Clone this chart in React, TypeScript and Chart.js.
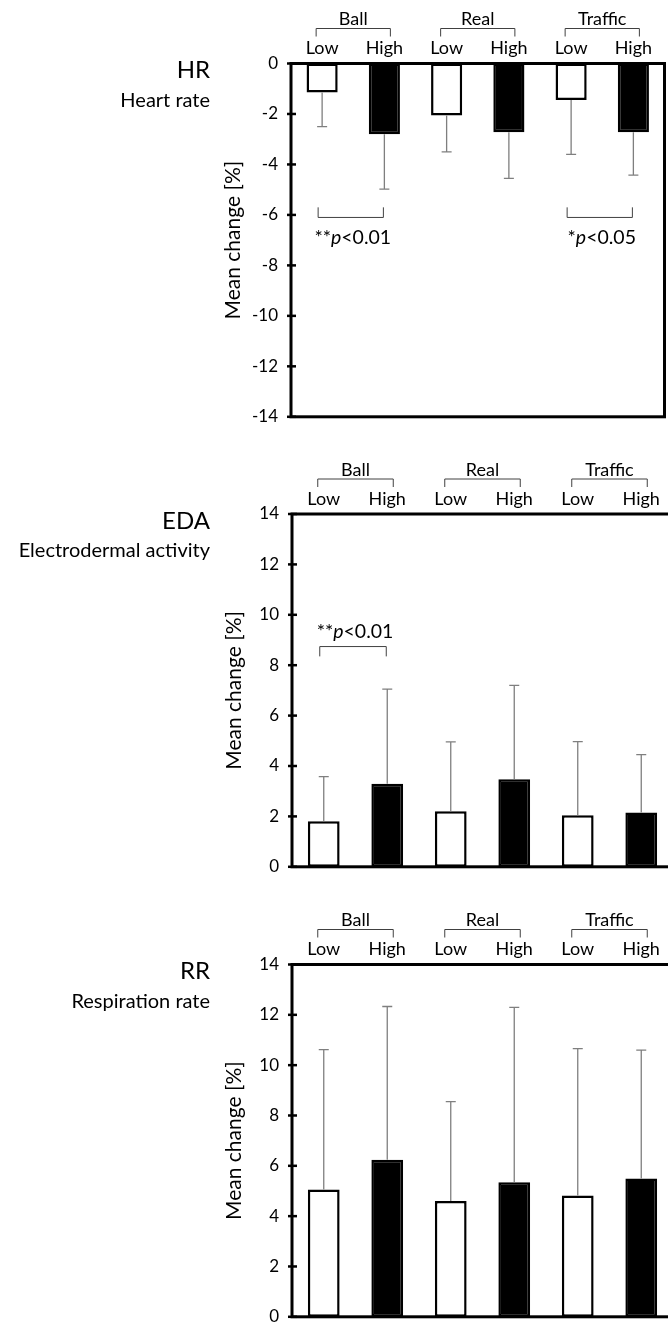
import React, { useEffect, useRef } from 'react';
import { Chart, registerables } from 'chart.js';

Chart.register(...registerables);

const FONT = 'Lato, "Open Sans", sans-serif';

// ---- data ----
const categories = ['Low', 'High', 'Low', 'High', 'Low', 'High'];
const groups = ['Ball', 'Real', 'Traffic'];
const barFill = ['#ffffff', '#000000', '#ffffff', '#000000', '#ffffff', '#000000'];

const hrMeans = [-1.15, -2.8, -2.06, -2.72, -1.45, -2.72];
const hrSD = [1.35, 2.18, 1.44, 1.83, 2.15, 1.7];
const hrTicks = { min: -14, max: 0, step: 2 };

const edaMeans = [1.81, 3.3, 2.2, 3.47, 2.05, 2.15];
const edaSD = [1.77, 3.75, 2.76, 3.73, 2.92, 2.3];
const edaTicks = { min: 0, max: 14, step: 2 };

const rrMeans = [5.06, 6.24, 4.6, 5.35, 4.82, 5.5];
const rrSD = [5.56, 6.09, 3.95, 6.95, 5.84, 5.1];
const rrTicks = { min: 0, max: 14, step: 2 };

const hrSig = [
  { from: 0, to: 1, star: '**', rest: '<0.01', line: -6.1, tip: -5.7, text: -6.9 },
  { from: 4, to: 5, star: '*', rest: '<0.05', line: -6.1, tip: -5.7, text: -6.9 },
];
const edaSig = [
  { from: 0, to: 1, star: '**', rest: '<0.01', line: 8.74, tip: 8.35, text: 9.33 },
];

const CANVAS_W = 680;
const AXIS_W = 60;

type Sig = { from: number; to: number; star: string; rest: string; line: number; tip: number; text: number };

type PanelProps = {
  canvasTop: number;
  height: number;
  area: { top: number; bottom: number; left: number; right: number };
  means: number[];
  sds: number[];
  ticks: { min: number; max: number; step: number };
  title: string;
  subtitle: string;
  sig: Sig[];
};

function Panel(p: PanelProps) {
  const ref = useRef<HTMLCanvasElement | null>(null);

  useEffect(() => {
    if (!ref.current) return;
    const plugin = {
      id: 'panelDecor',
      afterDatasetsDraw(chart: any) {
        const ctx = chart.ctx as CanvasRenderingContext2D;
        const ys = chart.scales.y;
        const a = chart.chartArea;
        const meta = chart.getDatasetMeta(0);
        ctx.save();
        // error bars
        ctx.strokeStyle = '#7f7f7f';
        ctx.lineWidth = 1.3;
        meta.data.forEach((bar: any, i: number) => {
          const v = p.means[i];
          const e = v < 0 ? v - p.sds[i] : v + p.sds[i];
          const y0 = ys.getPixelForValue(v);
          const y1 = ys.getPixelForValue(e);
          ctx.beginPath();
          ctx.moveTo(bar.x, y0);
          ctx.lineTo(bar.x, y1);
          ctx.moveTo(bar.x - 5, y1);
          ctx.lineTo(bar.x + 5, y1);
          ctx.stroke();
        });
        // frame
        ctx.strokeStyle = '#000';
        ctx.lineWidth = 3;
        ctx.strokeRect(a.left, a.top, a.right - a.left, a.bottom - a.top);
        // tick marks
        ctx.lineWidth = 2.5;
        ys.ticks.forEach((t: any) => {
          const py = ys.getPixelForValue(t.value);
          ctx.beginPath();
          ctx.moveTo(a.left - 4, py);
          ctx.lineTo(a.left + 5, py);
          ctx.stroke();
        });
        // header labels
        ctx.fillStyle = '#000';
        ctx.textBaseline = 'middle';
        ctx.textAlign = 'center';
        ctx.font = `18px ${FONT}`;
        meta.data.forEach((bar: any, i: number) => {
          ctx.fillText(categories[i], bar.x, a.top - 15);
        });
        ctx.strokeStyle = '#404040';
        ctx.lineWidth = 1;
        groups.forEach((g, gi) => {
          const x0 = meta.data[gi * 2].x;
          const x1 = meta.data[gi * 2 + 1].x;
          ctx.fillText(g, (x0 + x1) / 2, a.top - 44);
          ctx.beginPath();
          ctx.moveTo(x0 - 6, a.top - 27);
          ctx.lineTo(x0 - 6, a.top - 35);
          ctx.lineTo(x1 + 6, a.top - 35);
          ctx.lineTo(x1 + 6, a.top - 27);
          ctx.stroke();
        });
        // significance
        p.sig.forEach((s) => {
          const x0 = meta.data[s.from].x - 4;
          const x1 = meta.data[s.to].x - 1;
          const yl = ys.getPixelForValue(s.line);
          const yt = ys.getPixelForValue(s.tip);
          ctx.strokeStyle = '#404040';
          ctx.lineWidth = 1;
          ctx.beginPath();
          ctx.moveTo(x0, yt);
          ctx.lineTo(x0, yl);
          ctx.lineTo(x1, yl);
          ctx.lineTo(x1, yt);
          ctx.stroke();
          const ty = ys.getPixelForValue(s.text);
          ctx.textAlign = 'left';
          const fN = `19.5px ${FONT}`;
          const fI = `italic 19.5px ${FONT}`;
          ctx.font = fN;
          const w1 = ctx.measureText(s.star).width;
          const w3 = ctx.measureText(s.rest).width;
          ctx.font = fI;
          const w2 = ctx.measureText('p').width;
          let x = (x0 + x1) / 2 + 2 - (w1 + w2 + w3) / 2;
          ctx.font = fN;
          ctx.fillText(s.star, x, ty);
          x += w1;
          ctx.font = fI;
          ctx.fillText('p', x, ty);
          x += w2;
          ctx.font = fN;
          ctx.fillText(s.rest, x, ty);
        });
        // row titles
        ctx.textAlign = 'right';
        ctx.font = `24px ${FONT}`;
        ctx.fillText(p.title, 210, a.top + 7);
        ctx.font = `20px ${FONT}`;
        ctx.fillText(p.subtitle, 210, a.top + 37);
        // y axis title
        ctx.save();
        ctx.translate(a.left - 58, (a.top + a.bottom) / 2);
        ctx.rotate(-Math.PI / 2);
        ctx.textAlign = 'center';
        ctx.font = `21px ${FONT}`;
        ctx.fillText('Mean change [%]', 0, 0);
        ctx.restore();
        ctx.restore();
      },
    };

    const padTop = p.area.top - p.canvasTop;
    const padBottom = p.canvasTop + p.height - p.area.bottom;
    const chart = new Chart(ref.current, {
      type: 'bar',
      data: {
        labels: categories,
        datasets: [
          {
            data: p.means,
            backgroundColor: barFill,
            borderColor: '#000',
            borderWidth: 2.5,
            borderSkipped: false,
            categoryPercentage: 0.5,
            barPercentage: 1,
          },
        ],
      },
      options: {
        responsive: false,
        animation: false,
        devicePixelRatio: 1,
        layout: {
          padding: {
            top: padTop,
            bottom: padBottom,
            left: p.area.left - AXIS_W,
            right: CANVAS_W - p.area.right,
          },
        },
        plugins: { legend: { display: false }, tooltip: { enabled: false } },
        scales: {
          x: { display: false, offset: true },
          y: {
            min: p.ticks.min,
            max: p.ticks.max,
            ticks: {
              stepSize: p.ticks.step,
              padding: 13,
              color: '#000',
              font: { family: FONT, size: 17 },
            },
            grid: { display: false, drawTicks: false },
            border: { display: false },
            afterFit: (scale: any) => {
              scale.width = AXIS_W;
            },
          },
        },
      },
      plugins: [plugin],
    } as any);
    return () => chart.destroy();
  }, []);

  return (
    <div style={{ position: 'absolute', left: 0, top: p.canvasTop, width: CANVAS_W, height: p.height }}>
      <canvas ref={ref} width={CANVAS_W} height={p.height} style={{ display: 'block' }} />
    </div>
  );
}

export default function App() {
  useEffect(() => {
    document.body.style.margin = '0';
    document.documentElement.style.overflow = 'hidden';
  }, []);
  return (
    <div style={{ position: 'relative', width: 668, height: 1322, overflow: 'hidden', background: '#fff' }}>
      <style>{'body{margin:0;overflow:hidden}'}</style>
      <Panel
        canvasTop={0}
        height={440}
        area={{ top: 63.5, bottom: 418, left: 291, right: 664.5 }}
        means={hrMeans}
        sds={hrSD}
        ticks={hrTicks}
        title="HR"
        subtitle="Heart rate"
        sig={hrSig}
      />
      <Panel
        canvasTop={440}
        height={450}
        area={{ top: 514, bottom: 869, left: 292, right: 673 }}
        means={edaMeans}
        sds={edaSD}
        ticks={edaTicks}
        title="EDA"
        subtitle="Electrodermal activity"
        sig={edaSig}
      />
      <Panel
        canvasTop={880}
        height={460}
        area={{ top: 964.5, bottom: 1318, left: 292, right: 673 }}
        means={rrMeans}
        sds={rrSD}
        ticks={rrTicks}
        title="RR"
        subtitle="Respiration rate"
        sig={[]}
      />
    </div>
  );
}
